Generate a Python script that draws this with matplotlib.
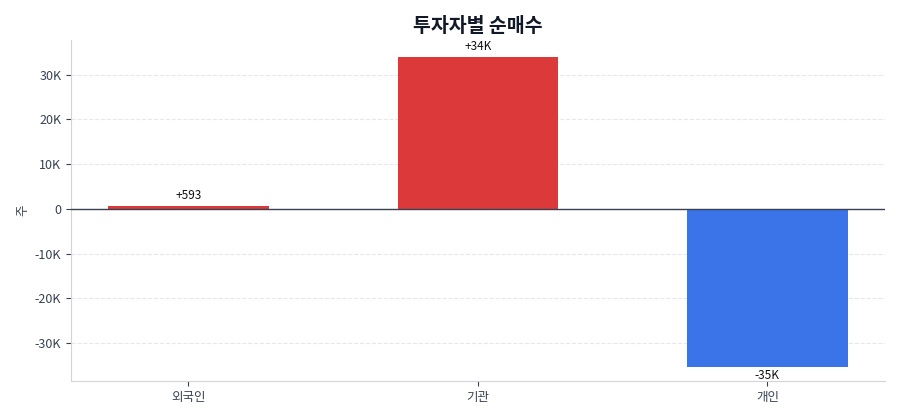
import matplotlib
matplotlib.use('Agg')
import matplotlib.pyplot as plt
import numpy as np
from matplotlib.ticker import FuncFormatter

plt.rcParams['font.family'] = ['Noto Sans CJK KR', 'DejaVu Sans']

# 데이터
investors = ['외국인', '기관', '개인']
net_buy = [593, 34000, -35310]
value_labels = ['+593', '+34K', '-35K']

colors = ['#dc3a3a' if v >= 0 else '#3b74e8' for v in net_buy]

fig, ax = plt.subplots(figsize=(9, 4.2), dpi=100)
x = np.arange(len(investors))
bars = ax.bar(x, net_buy, width=0.555, color=colors, zorder=3)

for b, v, lab in zip(bars, net_buy, value_labels):
    if v >= 0:
        ax.annotate(lab, (b.get_x() + b.get_width() / 2, v), xytext=(0, 3),
                    textcoords='offset points', ha='center', va='bottom', fontsize=8.5, color='#111111')
    else:
        ax.annotate(lab, (b.get_x() + b.get_width() / 2, v), xytext=(0, -2),
                    textcoords='offset points', ha='center', va='top', fontsize=8.5, color='#111111')

ax.axhline(0, color='#374151', lw=1, zorder=4)
ax.set_xticks(x)
ax.set_xticklabels(investors)
ax.set_xlim(-0.405, 2.405)
ax.set_ylim(-38500, 37800)
ax.set_yticks([-30000, -20000, -10000, 0, 10000, 20000, 30000])
ax.yaxis.set_major_formatter(FuncFormatter(lambda v, p: '0' if v == 0 else f'{int(v/1000)}K'))
ax.set_ylabel('주', color='#374151', fontsize=9)
ax.grid(axis='y', ls='--', color='#e5e7eb', lw=0.8, zorder=0)
ax.tick_params(colors='#374151', labelsize=9)
for s in ['top', 'right']:
    ax.spines[s].set_visible(False)
for s in ['left', 'bottom']:
    ax.spines[s].set_color('#d1d5db')
ax.set_title('투자자별 순매수', fontsize=14, fontweight='bold', color='#111827')

plt.subplots_adjust(left=0.079, right=0.983, top=0.905, bottom=0.093)
plt.savefig('out.png')
